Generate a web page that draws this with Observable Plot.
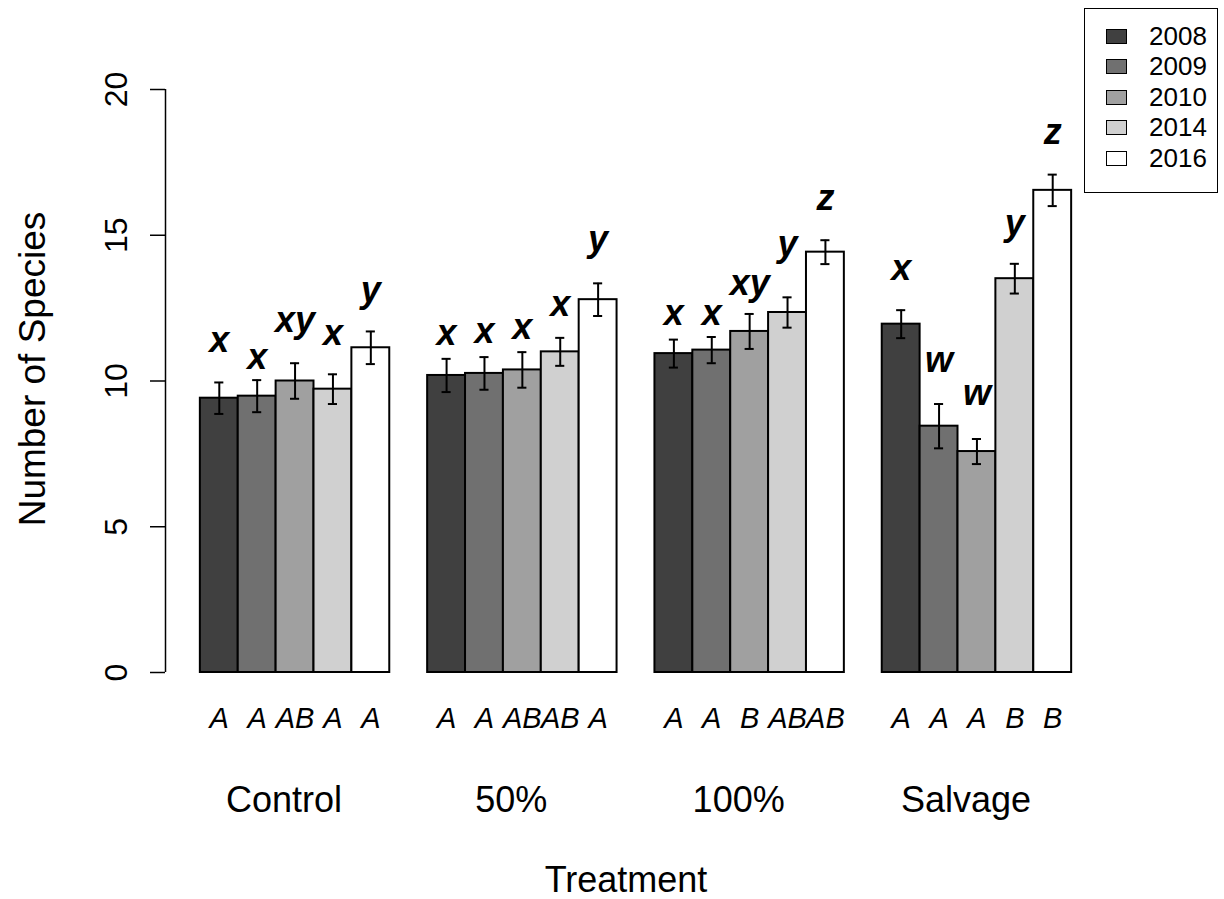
<!DOCTYPE html>
<html><head><meta charset="utf-8">
<script src="https://cdn.jsdelivr.net/npm/d3@7"></script>
<script src="https://cdn.jsdelivr.net/npm/@observablehq/plot@0.6"></script>
<style>
body{margin:0;background:#fff;}
#wrap{position:relative;width:1224px;height:899px;font-family:"Liberation Sans",Arial,sans-serif;background:#fff;}
#legend{position:absolute;left:1084px;top:8px;width:134px;height:185px;border:1.5px solid #000;box-sizing:border-box;background:#fff;}
.item{position:absolute;left:21px;height:30px;display:flex;align-items:center;font-size:26px;color:#000;}
.sw{width:21px;height:15px;border:1.5px solid #000;box-sizing:border-box;margin-right:22px;}
</style></head><body><div id="wrap"><div id="legend"></div></div>
<script>
// ---- data ----
const treatments = ["Control", "50%", "100%", "Salvage"];
const years = ["2008", "2009", "2010", "2014", "2016"];
const yearColors = ["#404040", "#707070", "#a0a0a0", "#d0d0d0", "#ffffff"];
const yTicks = [0, 5, 10, 15, 20];

const meanControl = [9.41, 9.48, 10.0, 9.72, 11.14];
const mean50 = [10.19, 10.26, 10.38, 11.0, 12.79];
const mean100 = [10.94, 11.06, 11.70, 12.35, 14.42];
const meanSalvage = [11.95, 8.45, 7.58, 13.51, 16.54];

const seControl = [0.54, 0.55, 0.61, 0.51, 0.56];
const se50 = [0.57, 0.56, 0.61, 0.48, 0.56];
const se100 = [0.48, 0.45, 0.60, 0.52, 0.41];
const seSalvage = [0.48, 0.76, 0.43, 0.51, 0.54];

// letters comparing years within a treatment (above bars)
const yearLetControl = ["x", "x", "xy", "x", "y"];
const yearLet50 = ["x", "x", "x", "x", "y"];
const yearLet100 = ["x", "x", "xy", "y", "z"];
const yearLetSalvage = ["x", "w", "w", "y", "z"];
// height (in species) at which each letter sits
const letYControl = [11.0, 10.42, 11.68, 11.22, 12.72];
const letY50 = [11.22, 11.30, 11.45, 12.22, 14.45];
const letY100 = [11.91, 11.91, 12.94, 14.28, 15.85];
const letYSalvage = [13.45, 10.31, 9.16, 15.0, 18.13];

// letters comparing treatments within a year (below bars)
const trtLetControl = ["A", "A", "AB", "A", "A"];
const trtLet50 = ["A", "A", "AB", "AB", "A"];
const trtLet100 = ["A", "A", "B", "AB", "AB"];
const trtLetSalvage = ["A", "A", "A", "B", "B"];

// ---- assemble ----
const means = [meanControl, mean50, mean100, meanSalvage];
const ses = [seControl, se50, se100, seSalvage];
const yLets = [yearLetControl, yearLet50, yearLet100, yearLetSalvage];
const letYs = [letYControl, letY50, letY100, letYSalvage];
const tLets = [trtLetControl, trtLet50, trtLet100, trtLetSalvage];

const rows = [];
treatments.forEach((t, g) => years.forEach((yr, j) => {
  const left = 1 + g * 6 + j; // barplot-style slots: width 1, space 1 between groups
  rows.push({
    treatment: t, year: yr, left, right: left + 1, center: left + 0.5,
    mean: means[g][j], se: ses[g][j],
    letter: yLets[g][j], letterY: letYs[g][j], trt: tLets[g][j]
  });
}));
const xDomain = [1 - 0.04 * 23, 24 + 0.04 * 23];
const capHalf = 0.12;
const font = "Liberation Sans, Arial, sans-serif";

const chart = Plot.plot({
  width: 1224, height: 899,
  marginLeft: 165, marginRight: 118, marginTop: 89, marginBottom: 227,
  style: {fontFamily: font, background: "white", color: "black"},
  x: {type: "linear", domain: xDomain, axis: null},
  y: {domain: [0, 20]},
  color: {domain: years, range: yearColors},
  marks: [
    Plot.rect(rows, {x1: "left", x2: "right", y1: 0, y2: "mean", fill: "year", stroke: "black", strokeWidth: 2}),
    Plot.ruleX(rows, {x: "center", y1: d => d.mean - d.se, y2: d => d.mean + d.se, stroke: "black", strokeWidth: 2}),
    Plot.ruleY(rows, {y: d => d.mean - d.se, x1: d => d.center - capHalf, x2: d => d.center + capHalf, stroke: "black", strokeWidth: 2}),
    Plot.ruleY(rows, {y: d => d.mean + d.se, x1: d => d.center - capHalf, x2: d => d.center + capHalf, stroke: "black", strokeWidth: 2}),
    Plot.text(rows, {x: "center", y: "letterY", text: "letter", fontSize: 36, fontWeight: "bold", fontStyle: "italic", lineAnchor: "bottom", textAnchor: "middle", fill: "black"}),
    Plot.ruleX([xDomain[0]], {y1: 0, y2: 20, stroke: "black", strokeWidth: 1.5}),
    Plot.axisY({ticks: yTicks, tickSize: 15, tickFormat: () => "", label: null, strokeWidth: 1.5}),
    Plot.text(yTicks, {y: d => d, text: d => String(d), frameAnchor: "left", rotate: -90, dx: -49, fontSize: 32, textAnchor: "middle", lineAnchor: "middle", fill: "black"}),
    Plot.text(["Number of Species"], {frameAnchor: "left", dx: -132, dy: -12, rotate: -90, fontSize: 37, textAnchor: "middle", lineAnchor: "middle", fill: "black"}),
    Plot.text(rows, {x: "center", text: "trt", frameAnchor: "bottom", dy: 46, fontSize: 29, fontStyle: "italic", textAnchor: "middle", lineAnchor: "middle", fill: "black"}),
    Plot.text(treatments, {x: (d, i) => 1 + i * 6 + 2.5, text: d => d, frameAnchor: "bottom", dy: 128, dx: -11, fontSize: 36, textAnchor: "middle", lineAnchor: "middle", fill: "black"}),
    Plot.text(["Treatment"], {frameAnchor: "bottom", dy: 208, dx: -10, fontSize: 36, textAnchor: "middle", lineAnchor: "middle", fill: "black"})
  ]
});
const wrap = document.getElementById("wrap");
wrap.insertBefore(chart, wrap.firstChild);

// legend
const legend = document.getElementById("legend");
years.forEach((yr, i) => {
  const item = document.createElement("div");
  item.className = "item";
  item.style.top = (20 + i * 30.5 - 8) + "px";
  const sw = document.createElement("div");
  sw.className = "sw";
  sw.style.background = yearColors[i];
  const lab = document.createElement("span");
  lab.textContent = yr;
  item.appendChild(sw); item.appendChild(lab);
  legend.appendChild(item);
});
</script></body></html>
